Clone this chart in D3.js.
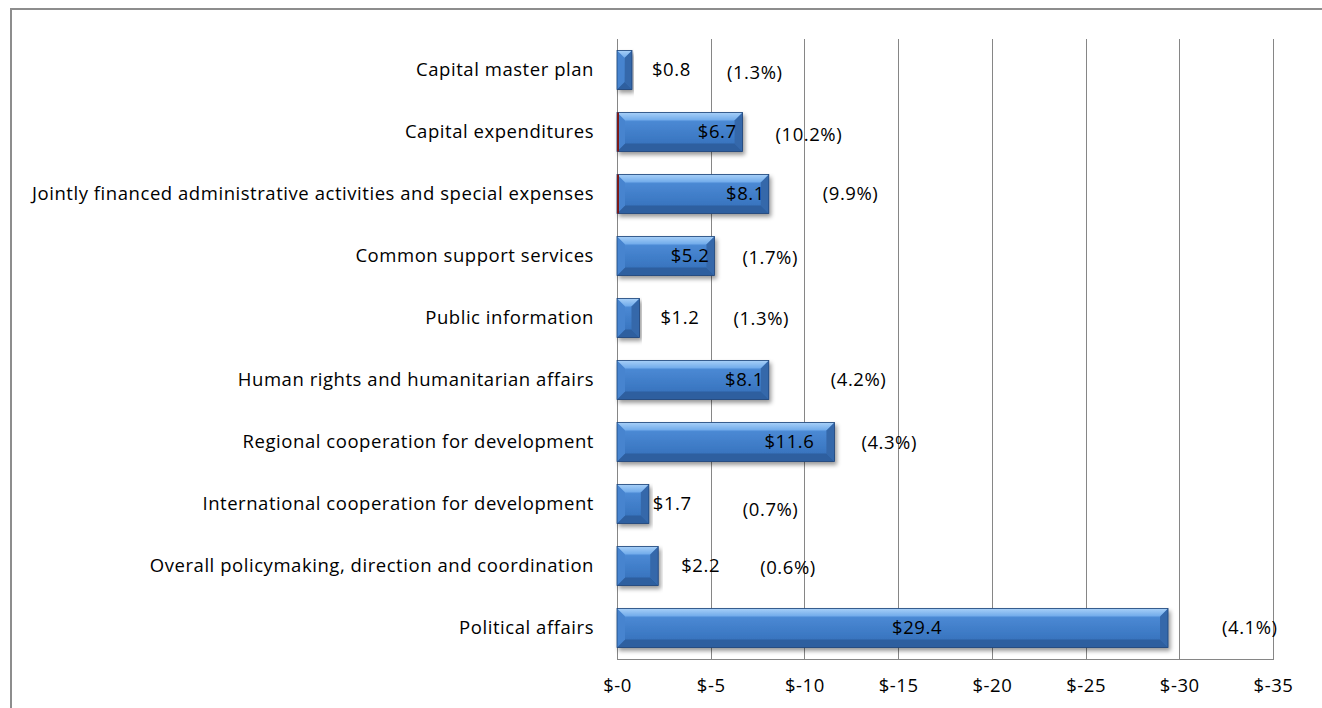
<!DOCTYPE html>
<html>
<head>
<meta charset="utf-8">
<script src="https://cdn.jsdelivr.net/npm/d3@7"></script>
<style>
  html, body { margin: 0; padding: 0; background: #fff; }
  svg { display: block; font-family: "Open Sans", Lato, sans-serif; }
  svg text { letter-spacing: 0.55px; }
</style>
</head>
<body>
<svg id="chart" width="1322" height="708"></svg>
<script>
// Budget reductions by section (US$ millions) and percentage change
const categories = [
  "Capital master plan",
  "Capital expenditures",
  "Jointly financed administrative activities and special expenses",
  "Common support services",
  "Public information",
  "Human rights and humanitarian affairs",
  "Regional cooperation for development",
  "International cooperation for development",
  "Overall policymaking, direction and coordination",
  "Political affairs"
];
const reductions = [0.8, 6.7, 8.1, 5.2, 1.2, 8.1, 11.6, 1.7, 2.2, 29.4];
const percentLabels = ["(1.3%)", "(10.2%)", "(9.9%)", "(1.7%)", "(1.3%)", "(4.2%)", "(4.3%)", "(0.7%)", "(0.6%)", "(4.1%)"];
const tickValues = [0, 5, 10, 15, 20, 25, 30, 35];
const tickLabels = ["$-0", "$-5", "$-10", "$-15", "$-20", "$-25", "$-30", "$-35"];

// Label placement tweaks (pixels relative to bar end)
const valueNudge = [20, -6, -4, -5, 21, -5, -20, 4, 23, -226];
const pctNudge = [95, 33, 54, 28, 94, 62, 27, 94, 102, 54];
const pctDy = [3, 3, 0, 2, 1, 0, 1, 6, 2, 0];

const FONT = 18.5;
const svg = d3.select("#chart");
const margin = { left: 617, right: 49, top: 39, bottom: 49 };
const W = 1322, H = 708;

const x = d3.scaleLinear().domain([0, 35]).range([margin.left, W - margin.right]);
const y = d3.scaleBand().domain(categories).range([margin.top, H - margin.bottom])
  .paddingInner(0.37).paddingOuter(0.185);

// Outer frame
svg.append("rect")
  .attr("x", 11).attr("y", 9).attr("width", 1500).attr("height", 900)
  .attr("fill", "none").attr("stroke", "#8d8d8d").attr("stroke-width", 2);

const defs = svg.append("defs");
const face = defs.append("linearGradient").attr("id", "face").attr("x1", 0).attr("y1", 0).attr("x2", 0).attr("y2", 1);
face.append("stop").attr("offset", 0).attr("stop-color", "#5e9de4");
face.append("stop").attr("offset", 0.25).attr("stop-color", "#4a88d3");
face.append("stop").attr("offset", 0.7).attr("stop-color", "#3b78c3");
face.append("stop").attr("offset", 1).attr("stop-color", "#346db3");
const topG = defs.append("linearGradient").attr("id", "topFacet").attr("x1", 0).attr("y1", 0).attr("x2", 0).attr("y2", 1);
topG.append("stop").attr("offset", 0).attr("stop-color", "#a8d0f8");
topG.append("stop").attr("offset", 1).attr("stop-color", "#6faaea");
const shadow = defs.append("filter").attr("id", "shadow").attr("x", "-5%").attr("y", "-20%").attr("width", "115%").attr("height", "160%");
shadow.append("feDropShadow").attr("dx", 2).attr("dy", 3).attr("stdDeviation", 2)
  .attr("flood-color", "#000").attr("flood-opacity", 0.4);

// Gridlines
const grid = svg.append("g");
grid.selectAll("line").data(tickValues).join("line")
  .attr("x1", d => Math.round(x(d)) + 0.5).attr("x2", d => Math.round(x(d)) + 0.5)
  .attr("y1", margin.top).attr("y2", H - margin.bottom)
  .attr("stroke", "#868686").attr("stroke-width", 1);

// Bottom axis
const axis = d3.axisBottom(x).tickValues(tickValues).tickFormat((d, i) => tickLabels[i]).tickSize(0).tickPadding(19);
const axisG = svg.append("g").attr("transform", `translate(0,${H - margin.bottom + 0.5})`).call(axis);
axisG.select(".domain").attr("stroke", "#868686").attr("d", `M${margin.left},0H${Math.round(x(35)) + 1}`);
axisG.selectAll("text").attr("font-size", FONT).attr("fill", "#000").attr("font-family", "'Open Sans', sans-serif");

// Bars with bevelled facets
const rows = categories.map((c, i) => ({ c, v: reductions[i], i }));
const bars = svg.append("g").selectAll("g").data(rows).join("g").attr("filter", "url(#shadow)");
bars.each(function(d) {
  const g = d3.select(this);
  const x0 = x(0), x1 = x(d.v), y0 = y(d.c), y1 = y0 + y.bandwidth();
  const b = Math.min(8, (x1 - x0) / 2);
  const pts = a => a.map(p => p.join(",")).join(" ");
  g.append("rect").attr("x", x0).attr("y", y0).attr("width", x1 - x0).attr("height", y1 - y0).attr("fill", "url(#face)");
  g.append("polygon").attr("points", pts([[x0, y0], [x1, y0], [x1 - b, y0 + b], [x0 + b, y0 + b]])).attr("fill", "url(#topFacet)");
  g.append("polygon").attr("points", pts([[x0, y1], [x1, y1], [x1 - b, y1 - b], [x0 + b, y1 - b]])).attr("fill", "#2d5f9f");
  g.append("polygon").attr("points", pts([[x1, y0], [x1, y1], [x1 - b, y1 - b], [x1 - b, y0 + b]])).attr("fill", "#3568aa");
  g.append("polygon").attr("points", pts([[x0, y0], [x0, y1], [x0 + b, y1 - b], [x0 + b, y0 + b]])).attr("fill", "#4784cf");
  g.append("rect").attr("x", x0).attr("y", y0).attr("width", x1 - x0).attr("height", y1 - y0)
    .attr("fill", "none").attr("stroke", "#1f4478").attr("stroke-width", 0.8);
});

// Small dark edge at the start of some bars
svg.append("g").selectAll("line").data(rows.filter(d => d.i === 1 || d.i === 2)).join("line")
  .attr("x1", x(0) + 1).attr("x2", x(0) + 1)
  .attr("y1", d => y(d.c)).attr("y2", d => y(d.c) + y.bandwidth())
  .attr("stroke", "#7a1a1a").attr("stroke-width", 2);

// Category labels
svg.append("g").selectAll("text").data(rows).join("text")
  .attr("x", x(0) - 23).attr("y", d => y(d.c) + y.bandwidth() / 2)
  .attr("dy", "0.35em").attr("text-anchor", "end")
  .attr("font-size", FONT).attr("fill", "#000")
  .text(d => d.c);

// Value labels
svg.append("g").selectAll("text").data(rows).join("text")
  .attr("x", d => x(d.v) + valueNudge[d.i])
  .attr("y", d => y(d.c) + y.bandwidth() / 2)
  .attr("dy", "0.35em")
  .attr("text-anchor", d => valueNudge[d.i] < 0 ? "end" : "start")
  .attr("font-size", FONT).attr("fill", "#000")
  .text(d => "$" + d.v.toFixed(1));

// Percentage labels
svg.append("g").selectAll("text").data(rows).join("text")
  .attr("x", d => x(d.v) + pctNudge[d.i])
  .attr("y", d => y(d.c) + y.bandwidth() / 2 + pctDy[d.i])
  .attr("dy", "0.35em")
  .attr("font-size", FONT).attr("fill", "#000")
  .text(d => percentLabels[d.i]);
</script>
</body>
</html>
